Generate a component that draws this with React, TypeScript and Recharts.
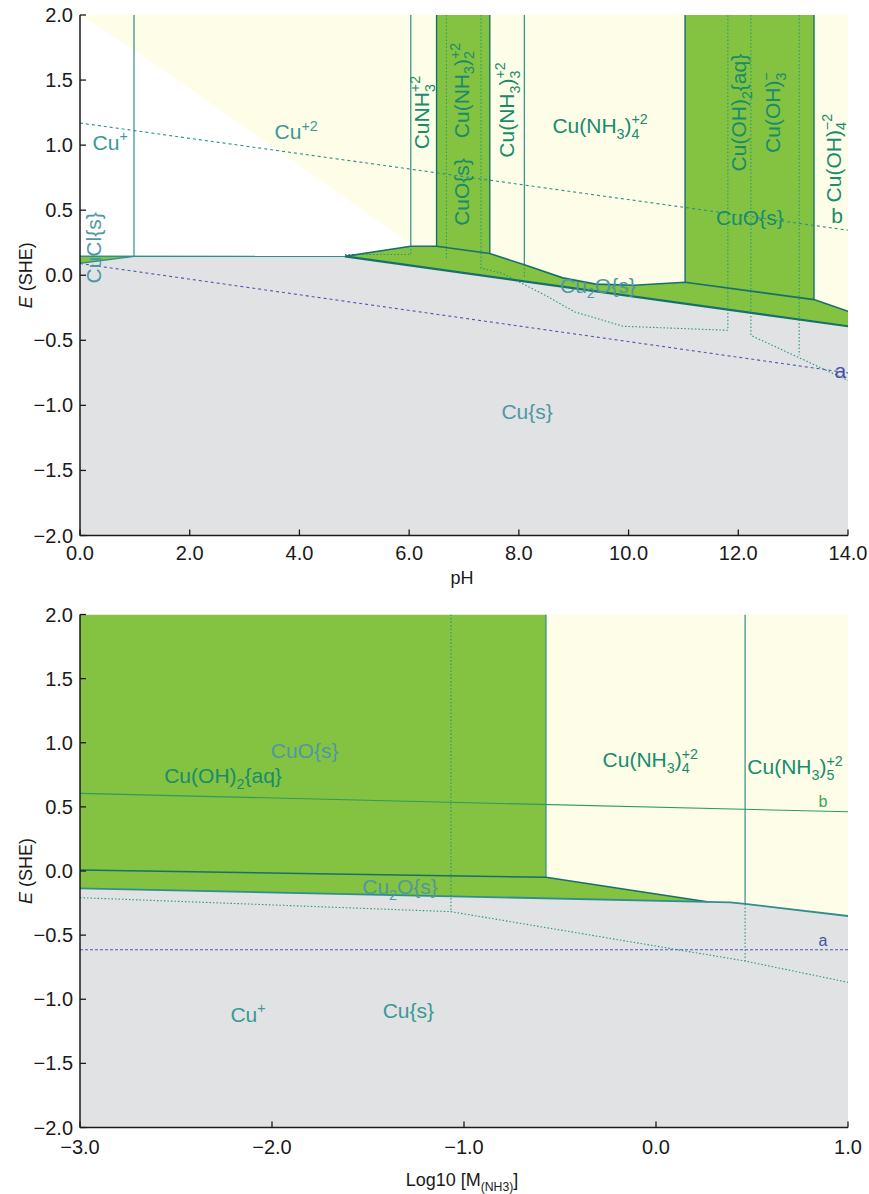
import React from 'react'
import { ComposedChart, Area, Line, Scatter, XAxis, YAxis } from 'recharts'

// ---------- shared ----------
const eTicks = [-2, -1.5, -1, -0.5, 0, 0.5, 1, 1.5, 2]

// ---------- top: E vs pH ----------
const phTicks = [0, 2, 4, 6, 8, 10, 12, 14]

const phBackground = [{ x: 0, e: [-2, 2] }, { x: 14, e: [-2, 2] }]
const phWhite = [
  { x: 0, e: [0.146, 2.0] },
  { x: 0.984, e: [0.145, 1.735] },
  { x: 4.83, e: [0.145, 0.597] },
  { x: 6.03, e: [0.223, 0.241] },
]
const phCopper = [
  { x: 0, e: [-2, 0.092] },
  { x: 0.984, e: [-2, 0.145] },
  { x: 4.83, e: [-2, 0.145] },
  { x: 14, e: [-2, -0.392] },
]
const phCuCl = [{ x: 0, e: [0.092, 0.146] }, { x: 0.984, e: [0.145, 0.145] }]
const phCu2O = [
  { x: 4.83, e: [0.145, 0.145] },
  { x: 6.03, e: [0.075, 0.223] },
  { x: 6.5, e: [0.047, 0.223] },
  { x: 7.47, e: [-0.01, 0.167] },
  { x: 8.1, e: [-0.047, 0.08] },
  { x: 8.8, e: [-0.088, -0.02] },
  { x: 9.4, e: [-0.123, -0.068] },
  { x: 10.1, e: [-0.164, -0.077] },
  { x: 11.03, e: [-0.218, -0.054] },
  { x: 13.38, e: [-0.356, -0.187] },
  { x: 14, e: [-0.392, -0.277] },
]
const phCuOLow = [{ x: 6.5, e: [0.047, 2] }, { x: 7.47, e: [-0.01, 2] }]
const phCuOHigh = [{ x: 11.03, e: [-0.218, 2] }, { x: 13.38, e: [-0.356, 2] }]

const phThinVerticals = [
  { x: 0.984, e: 0.145 },
  { x: 6.03, e: 0.223 },
  { x: 8.1, e: 0.08 },
]
const phBandEdges = [
  { x: 6.5, e: 0.223 },
  { x: 7.47, e: 0.167 },
  { x: 11.03, e: -0.054 },
  { x: 13.38, e: -0.187 },
]
const phCuLine = [{ x: 0, e: 0.146 }, { x: 4.83, e: 0.145 }]
const phCuClEdge = [{ x: 0, e: 0.092 }, { x: 0.984, e: 0.145 }]
const phLowerEdge = [{ x: 4.83, e: 0.145 }, { x: 14, e: -0.392 }]
const phUpperEdge = [
  { x: 4.83, e: 0.145 },
  { x: 6.03, e: 0.223 },
  { x: 6.5, e: 0.223 },
  { x: 7.47, e: 0.167 },
  { x: 8.1, e: 0.08 },
  { x: 8.8, e: -0.02 },
  { x: 9.4, e: -0.068 },
  { x: 10.1, e: -0.077 },
  { x: 11.03, e: -0.054 },
  { x: 13.38, e: -0.187 },
  { x: 14, e: -0.277 },
]
const phWaterB = [{ x: 0, e: 1.17 }, { x: 14, e: 0.346 }]
const phWaterA = [{ x: 0, e: 0.09 }, { x: 14, e: -0.75 }]
const phDotted = [
  [{ x: 4.83, e: 0.159 }, { x: 6.03, e: 0.159 }, { x: 6.03, e: 0.223 }],
  [{ x: 6.68, e: 2 }, { x: 6.68, e: 0.131 }],
  [
    { x: 7.31, e: 2 },
    { x: 7.31, e: 0.054 },
    { x: 7.7, e: 0.015 },
    { x: 8.48, e: -0.154 },
    { x: 9.02, e: -0.282 },
    { x: 9.9, e: -0.392 },
    { x: 11.81, e: -0.423 },
    { x: 11.81, e: 2 },
  ],
  [{ x: 8.1, e: 0.08 }, { x: 8.1, e: -0.023 }],
  [{ x: 12.23, e: 2 }, { x: 12.23, e: -0.462 }, { x: 14, e: -0.808 }],
  [{ x: 13.11, e: 2 }, { x: 13.11, e: -0.615 }],
]

const phLabels = [
  { x: 0.55, e: 1.02, text: 'Cu^{+}', tone: 'teal' },
  { x: 3.94, e: 1.1, text: 'Cu^{+2}', tone: 'teal' },
  { x: 0.24, e: 0.21, text: 'CuCl{s}', tone: 'faint', rot: true },
  { x: 6.23, e: 1.25, text: 'CuNH_{3}^{+2}', tone: 'green', rot: true },
  { x: 6.95, e: 1.42, text: 'Cu(NH_{3})_{2}^{+2}', tone: 'green', rot: true },
  { x: 6.95, e: 0.64, text: 'CuO{s}', tone: 'green', rot: true },
  { x: 7.78, e: 1.27, text: 'Cu(NH_{3})_{3}^{+2}', tone: 'green', rot: true },
  { x: 9.48, e: 1.15, text: 'Cu(NH_{3})_{4}^{+2}', tone: 'green' },
  { x: 12.0, e: 1.25, text: 'Cu(OH)_{2}{aq}', tone: 'green', rot: true },
  { x: 12.63, e: 1.25, text: 'Cu(OH)_{3}^{\u2212}', tone: 'green', rot: true },
  { x: 13.73, e: 0.9, text: 'Cu(OH)_{4}^{\u22122}', tone: 'green', rot: true },
  { x: 12.21, e: 0.44, text: 'CuO{s}', tone: 'green' },
  { x: 13.8, e: 0.46, text: 'b', tone: 'green' },
  { x: 9.44, e: -0.077, text: 'Cu_{2}O{s}', tone: 'faint' },
  { x: 13.86, e: -0.73, text: 'a', tone: 'blue' },
  { x: 8.15, e: -1.05, text: 'Cu{s}', tone: 'faint' },
]

// ---------- bottom: E vs log10 [NH3] ----------
const nh3Ticks = [-3, -2, -1, 0, 1]

const nh3Background = [{ x: -3, e: [-2, 2] }, { x: 1, e: [-2, 2] }]
const nh3Copper = [
  { x: -3, e: [-2, -0.135] },
  { x: 0.266, e: [-2, -0.24] },
  { x: 0.385, e: [-2, -0.244] },
  { x: 0.464, e: [-2, -0.257] },
  { x: 1, e: [-2, -0.351] },
]
const nh3Green = [
  { x: -3, e: [-0.135, 2] },
  { x: -0.573, e: [-0.212, 2] },
  { x: -0.573, e: [-0.212, -0.049] },
  { x: 0.266, e: [-0.24, -0.24] },
]
const nh3UpperEdge = [{ x: -3, e: 0.008 }, { x: -0.573, e: -0.049 }, { x: 0.266, e: -0.24 }]
const nh3LowerEdge = [
  { x: -3, e: -0.135 },
  { x: 0.266, e: -0.24 },
  { x: 0.385, e: -0.244 },
  { x: 0.464, e: -0.257 },
  { x: 1, e: -0.351 },
]
const nh3Verticals = [{ x: -0.573, e: -0.049 }, { x: 0.464, e: -0.257 }]
const nh3WaterB = [{ x: -3, e: 0.605 }, { x: 1, e: 0.462 }]
const nh3WaterA = [{ x: -3, e: -0.614 }, { x: 1, e: -0.614 }]
const nh3Dotted = [
  [{ x: -1.068, e: 2 }, { x: -1.068, e: -0.317 }],
  [{ x: -3, e: -0.208 }, { x: -1.068, e: -0.317 }, { x: 0.464, e: -0.702 }, { x: 1, e: -0.868 }],
  [{ x: 0.464, e: -0.257 }, { x: 0.464, e: -0.702 }],
]

const nh3Labels = [
  { x: -1.83, e: 0.94, text: 'CuO{s}', tone: 'faint' },
  { x: -2.255, e: 0.74, text: 'Cu(OH)_{2}{aq}', tone: 'green' },
  { x: -0.03, e: 0.865, text: 'Cu(NH_{3})_{4}^{+2}', tone: 'green' },
  { x: 0.724, e: 0.81, text: 'Cu(NH_{3})_{5}^{+2}', tone: 'green' },
  { x: 0.87, e: 0.54, text: 'b', tone: 'bsmall' },
  { x: -1.333, e: -0.125, text: 'Cu_{2}O{s}', tone: 'faint' },
  { x: 0.87, e: -0.54, text: 'a', tone: 'bluesmall' },
  { x: -2.125, e: -1.12, text: 'Cu^{+}', tone: 'teal' },
  { x: -1.29, e: -1.09, text: 'Cu{s}', tone: 'teal' },
]

// ---------- styling ----------
const FONT = '"Liberation Sans", Arial, Helvetica, sans-serif'
const COL = {
  yellow: '#fdfde8',
  white: '#ffffff',
  gray: '#e1e2e4',
  green: '#83c341',
  edge: '#16706c',
  line: '#2f8f8c',
  dot: '#24987a',
  blue: '#5058b0',
  axis: '#1a1a1a',
}
const TONES: Record<string, { color: string; size: number }> = {
  teal: { color: '#3a9995', size: 21 },
  faint: { color: '#4f98a3', size: 21 },
  green: { color: '#178c6c', size: 21 },
  blue: { color: '#4a4fa8', size: 21 },
  bsmall: { color: '#3aa55a', size: 16 },
  bluesmall: { color: '#4a4fa8', size: 16 },
}

type Seg = { t: string; sub?: string; sup?: string }

function parseChem(s: string): Seg[] {
  const out: Seg[] = []
  let i = 0
  let buf = ''
  const isMark = (k: number) => (s[k] === '_' || s[k] === '^') && s[k + 1] === '{'
  while (i < s.length) {
    if (isMark(i)) {
      if (buf) {
        out.push({ t: buf })
        buf = ''
      }
      const seg: Seg = { t: '' }
      while (i < s.length && isMark(i)) {
        const kind = s[i]
        const j = s.indexOf('}', i)
        const v = s.slice(i + 2, j)
        if (kind === '_') seg.sub = v
        else seg.sup = v
        i = j + 1
      }
      out.push(seg)
    } else {
      buf += s[i]
      i++
    }
  }
  if (buf) out.push({ t: buf })
  return out
}

function ChemText({ x, y, text, color, size, rot, family = FONT }: any) {
  const small = size * 0.68
  const subDy = size * 0.28
  const supDy = -size * 0.42
  let cur = 0
  const spans: React.ReactNode[] = []
  parseChem(text).forEach((sg, k) => {
    if (sg.t) {
      spans.push(<tspan key={k} dy={-cur} fontSize={size}>{sg.t}</tspan>)
      cur = 0
    } else if (sg.sub !== undefined && sg.sup !== undefined) {
      spans.push(<tspan key={k + 'a'} dy={subDy - cur} fontSize={small}>{sg.sub}</tspan>)
      const w = sg.sub.length * small * 0.56
      spans.push(<tspan key={k + 'b'} dx={-w} dy={supDy - subDy} fontSize={small}>{sg.sup}</tspan>)
      cur = supDy
    } else if (sg.sub !== undefined) {
      spans.push(<tspan key={k} dy={subDy - cur} fontSize={small}>{sg.sub}</tspan>)
      cur = subDy
    } else {
      spans.push(<tspan key={k} dy={supDy - cur} fontSize={small}>{sg.sup}</tspan>)
      cur = supDy
    }
  })
  return (
    <text
      x={x}
      y={y + size * 0.35}
      textAnchor="middle"
      fill={color}
      fontFamily={family}
      fontSize={size}
      transform={rot ? `rotate(-90 ${x} ${y})` : undefined}
    >
      {spans}
    </text>
  )
}

const labelShape = (p: any) => {
  const d = p.payload || {}
  const tone = TONES[d.tone] || TONES.teal
  return <ChemText x={p.cx} y={p.cy} text={d.text} color={tone.color} size={tone.size} rot={d.rot} />
}

const fmt = (v: number) => (v < 0 ? '\u2212' + Math.abs(v).toFixed(1) : v.toFixed(1))

// tick marks point into the plot on all four sides
const TICK_LEN = 6
const tickText = { fill: '#1a1a1a', fontSize: 20, fontFamily: FONT }

const bottomTick = (gap: number) => (p: any) => (
  <g>
    <line x1={p.x} x2={p.x} y1={p.y} y2={p.y - TICK_LEN} stroke={COL.axis} strokeWidth={1.3} />
    <text x={p.x} y={p.y + gap} textAnchor="middle" {...tickText}>
      {fmt(p.payload.value)}
    </text>
  </g>
)
const TopTick = (p: any) => (
  <line x1={p.x} x2={p.x} y1={p.y} y2={p.y + TICK_LEN} stroke={COL.axis} strokeWidth={1.3} />
)
const LeftTick = (p: any) => (
  <g>
    <line x1={p.x} x2={p.x + TICK_LEN} y1={p.y} y2={p.y} stroke={COL.axis} strokeWidth={1.3} />
    <text x={p.x - 7} y={p.y + 7} textAnchor="end" {...tickText}>
      {fmt(p.payload.value)}
    </text>
  </g>
)
const RightTick = (p: any) => (
  <line x1={p.x - TICK_LEN} x2={p.x} y1={p.y} y2={p.y} stroke={COL.axis} strokeWidth={1.3} />
)

const fillArea = (key: string, data: any[], fill: string) => (
  <Area
    key={key}
    data={data}
    dataKey="e"
    type="linear"
    fill={fill}
    fillOpacity={1}
    stroke="none"
    dot={false}
    activeDot={false}
    isAnimationActive={false}
  />
)

const path = (key: string, data: any[], color: string, width: number, dash?: string) => (
  <Line
    key={key}
    data={data}
    dataKey="e"
    type="linear"
    stroke={color}
    strokeWidth={width}
    strokeDasharray={dash}
    dot={false}
    activeDot={false}
    isAnimationActive={false}
  />
)

const vertical = (key: string, x: number, from: number, color: string, width: number, dash?: string) =>
  path(key, [{ x, e: from }, { x, e: 2 }], color, width, dash)

const ETitle = (props: any) => {
  const vb = props.viewBox || { x: 0, y: 15, width: 80, height: 520 }
  const cx = 26
  const cy = vb.y + vb.height / 2
  return (
    <text
      x={cx}
      y={cy + 6}
      transform={`rotate(-90 ${cx} ${cy})`}
      textAnchor="middle"
      fontSize={18}
      fill="#1a1a1a"
      fontFamily={FONT}
    >
      <tspan fontStyle="italic">E</tspan> (SHE)
    </text>
  )
}

const XTitle = (props: any) => {
  const vb = props.viewBox || { x: 80, y: 535, width: 768, height: 60 }
  const cx = vb.x + vb.width / 2
  return <ChemText x={cx - 2} y={vb.y + props.dyTitle} text={props.text} color="#1a1a1a" size={18} />
}

function axes(ticks: number[], domain: [number, number], title: string, dyTitle: number, tickGap: number) {
  const line = { stroke: COL.axis, strokeWidth: 1.5 }
  return [
    <XAxis
      key="xb"
      xAxisId={0}
      dataKey="x"
      type="number"
      domain={domain}
      ticks={ticks}
      allowDataOverflow
      height={60}
      tickSize={0}
      tickMargin={0}
      tick={bottomTick(tickGap)}
      tickLine={false}
      axisLine={line}
      label={<XTitle text={title} dyTitle={dyTitle} />}
    />,
    <XAxis
      key="xt"
      xAxisId="top"
      orientation="top"
      dataKey="x"
      type="number"
      domain={domain}
      ticks={ticks}
      allowDataOverflow
      height={0}
      tickSize={0}
      tickMargin={0}
      tick={TopTick}
      tickLine={false}
      axisLine={line}
    />,
    <YAxis
      key="yl"
      yAxisId={0}
      dataKey="e"
      type="number"
      domain={[-2, 2]}
      ticks={eTicks}
      allowDataOverflow
      width={80}
      tickSize={0}
      tickMargin={0}
      tick={LeftTick}
      tickLine={false}
      axisLine={line}
      label={<ETitle />}
    />,
    <YAxis
      key="yr"
      yAxisId="right"
      orientation="right"
      dataKey="e"
      type="number"
      domain={[-2, 2]}
      ticks={eTicks}
      allowDataOverflow
      width={0}
      tickSize={0}
      tickMargin={0}
      tick={RightTick}
      tickLine={false}
      axisLine={line}
    />,
  ]
}

function PhChart() {
  return (
    <ComposedChart width={869} height={600} margin={{ top: 15, right: 21, bottom: 4.5, left: 0 }}>
      {axes(phTicks, [0, 14], 'pH', 42.5, 24.5)}
      {fillArea('bg', phBackground, COL.yellow)}
      {fillArea('white', phWhite, COL.white)}
      {fillArea('cu', phCopper, COL.gray)}
      {fillArea('cucl', phCuCl, COL.green)}
      {fillArea('cu2o', phCu2O, COL.green)}
      {fillArea('cuo1', phCuOLow, COL.green)}
      {fillArea('cuo2', phCuOHigh, COL.green)}
      {path('wb', phWaterB, COL.line, 1.1, '3 3')}
      {path('wa', phWaterA, COL.blue, 1.1, '3 3')}
      {phDotted.map((d, i) => path('d' + i, d, COL.dot, 1.1, '1.5 2'))}
      {phThinVerticals.map((v, i) => vertical('tv' + i, v.x, v.e, COL.line, 1.2))}
      {path('culine', phCuLine, COL.line, 1.4)}
      {path('cucledge', phCuClEdge, COL.line, 1.4)}
      {phBandEdges.map((v, i) => vertical('be' + i, v.x, v.e, COL.edge, 1.4))}
      {path('upper', phUpperEdge, COL.edge, 1.6)}
      {path('lower', phLowerEdge, COL.edge, 2.2)}
      <Scatter data={phLabels} dataKey="e" shape={labelShape} isAnimationActive={false} />
    </ComposedChart>
  )
}

function Nh3Chart() {
  return (
    <ComposedChart width={869} height={594} margin={{ top: 14.5, right: 21, bottom: 6.5, left: 0 }}>
      {axes(nh3Ticks, [-3, 1], 'Log10 [M_{(NH3)}]', 52.5, 26.5)}
      {fillArea('bg', nh3Background, COL.yellow)}
      {fillArea('cu', nh3Copper, COL.gray)}
      {fillArea('green', nh3Green, COL.green)}
      {path('wa', nh3WaterA, COL.blue, 1.1, '3 2')}
      {path('wb', nh3WaterB, '#2e9a5e', 1.1)}
      {nh3Dotted.map((d, i) => path('d' + i, d, COL.dot, 1.1, '1.5 2'))}
      {nh3Verticals.map((v, i) => vertical('v' + i, v.x, v.e, COL.line, 1.2))}
      {path('upper', nh3UpperEdge, COL.edge, 1.6)}
      {path('lower', nh3LowerEdge, COL.line, 1.8)}
      <Scatter data={nh3Labels} dataKey="e" shape={labelShape} isAnimationActive={false} />
    </ComposedChart>
  )
}

export default function App() {
  return (
    <div style={{ position: 'absolute', left: 0, top: 0, width: 869, height: 1194, background: '#fff' }}>
      <PhChart />
      <Nh3Chart />
    </div>
  )
}
